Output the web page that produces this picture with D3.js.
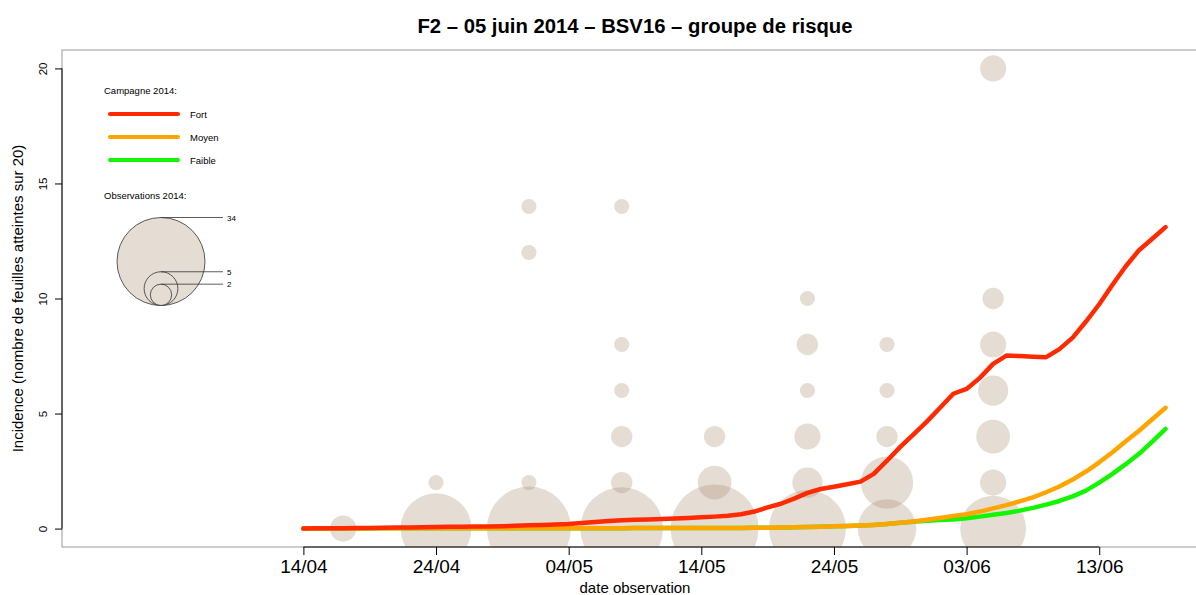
<!DOCTYPE html>
<html>
<head>
<meta charset="utf-8">
<script src="https://cdn.jsdelivr.net/npm/d3@7"></script>
<style>
    body { margin: 0; background: #fff; }
    svg { display: block; font-family: "Liberation Sans", Arial, Helvetica, sans-serif; }
</style>
</head>
<body>
<div id="chart"></div>
<script>
// Modelled curves, one value per day from 14/04 to 18/06
const curveStart = '2014-04-14';
const fort = [
    0, 0.01, 0.02, 0.02, 0.03, 0.03, 0.04, 0.05, 0.05, 0.06,
    0.07, 0.08, 0.08, 0.09, 0.09, 0.1, 0.12, 0.14, 0.16, 0.18,
    0.2, 0.24, 0.29, 0.33, 0.36, 0.38, 0.4, 0.42, 0.44, 0.46,
    0.49, 0.52, 0.56, 0.62, 0.74, 0.92, 1.08, 1.3, 1.55, 1.72,
    1.82, 1.93, 2.04, 2.38, 2.95, 3.55, 4.1, 4.65, 5.25, 5.86,
    6.07, 6.55, 7.16, 7.52, 7.5, 7.47, 7.45, 7.8, 8.3, 9.0,
    9.75, 10.6, 11.4, 12.1, 12.6, 13.1,
];
const moyen = [
    0, 0, 0, 0, 0, 0.01, 0.01, 0.01, 0.01, 0.01,
    0.01, 0.01, 0.01, 0.02, 0.02, 0.02, 0.02, 0.02, 0.02, 0.02,
    0.02, 0.02, 0.02, 0.02, 0.02, 0.03, 0.03, 0.03, 0.03, 0.03,
    0.03, 0.03, 0.03, 0.03, 0.04, 0.04, 0.05, 0.06, 0.07, 0.08,
    0.1, 0.11, 0.13, 0.16, 0.2, 0.25, 0.31, 0.38, 0.46, 0.55,
    0.62, 0.74, 0.88, 1.02, 1.18, 1.36, 1.58, 1.83, 2.13, 2.48,
    2.88, 3.32, 3.8, 4.25, 4.75, 5.25,
];
const faible = [
    0, 0, 0, 0, 0, 0.01, 0.01, 0.01, 0.01, 0.01,
    0.01, 0.01, 0.01, 0.02, 0.02, 0.02, 0.02, 0.02, 0.02, 0.02,
    0.02, 0.02, 0.02, 0.02, 0.02, 0.03, 0.03, 0.03, 0.03, 0.03,
    0.03, 0.03, 0.03, 0.03, 0.04, 0.04, 0.05, 0.06, 0.07, 0.08,
    0.1, 0.11, 0.13, 0.16, 0.2, 0.25, 0.3, 0.34, 0.37, 0.4,
    0.45, 0.52, 0.6, 0.68, 0.78, 0.9, 1.04, 1.2, 1.4, 1.65,
    2.0, 2.38, 2.8, 3.25, 3.78, 4.33,
];
const seriesNames = ['Fort', 'Moyen', 'Faible'];
const seriesColors = ['#ff2a00', '#ffa500', '#14f500'];

// Field observations: date, incidence, number of plots
const obsDate = [
    '2014-04-17',
    '2014-04-24', '2014-04-24',
    '2014-05-01', '2014-05-01', '2014-05-01', '2014-05-01',
    '2014-05-08', '2014-05-08', '2014-05-08', '2014-05-08', '2014-05-08', '2014-05-08',
    '2014-05-15', '2014-05-15', '2014-05-15',
    '2014-05-22', '2014-05-22', '2014-05-22', '2014-05-22', '2014-05-22', '2014-05-22',
    '2014-05-28', '2014-05-28', '2014-05-28', '2014-05-28', '2014-05-28',
    '2014-06-05', '2014-06-05', '2014-06-05', '2014-06-05', '2014-06-05', '2014-06-05', '2014-06-05',
];
const obsValue = [
    0,
    0, 2,
    0, 2, 12, 14,
    0, 2, 4, 6, 8, 14,
    0, 2, 4,
    0, 2, 4, 6, 8, 10,
    0, 2, 4, 6, 8,
    0, 2, 4, 6, 8, 10, 20,
];
const obsCount = [
    3,
    22, 1,
    31, 1, 1, 1,
    30, 2, 2, 1, 1, 1,
    34, 5, 2,
    26, 4, 3, 1, 2, 1,
    15, 12, 2, 1, 1,
    19, 3, 5, 4, 3, 2, 3,
];
const legendCounts = [34, 5, 2];

const xTickDates = ['2014-04-14', '2014-04-24', '2014-05-04', '2014-05-14', '2014-05-24', '2014-06-03', '2014-06-13'];
const yTicks = [0, 5, 10, 15, 20];

const width = 1196;
const height = 595;
const plot = { left: 62, top: 50, right: 1208, bottom: 547 };

const parse = d3.utcParse('%Y-%m-%d');

const svg = d3.select('#chart')
    .append('svg')
    .attr('width', width)
    .attr('height', height);

// Scales (R style: range padded by 4% on each side)
const xMin = parse('2014-03-30');
const xMax = parse('2014-06-18');
const pad = (xMax - xMin) * 0.04;
const xScale = d3.scaleUtc()
    .domain([new Date(+xMin - pad), new Date(+xMax + pad)])
    .range([plot.left, plot.right]);

const yScale = d3.scaleLinear()
    .domain([-0.8, 20.8])
    .range([plot.bottom, plot.top]);

const rScale = d3.scaleSqrt()
    .domain([0, 34])
    .range([0, 44]);

svg.append('clipPath')
    .attr('id', 'plot-clip')
    .append('rect')
    .attr('x', plot.left)
    .attr('y', plot.top)
    .attr('width', plot.right - plot.left)
    .attr('height', plot.bottom - plot.top);

const inner = svg.append('g')
    .attr('clip-path', 'url(#plot-clip)');

// Bubbles
const obs = obsDate.map((d, i) => ({ date: parse(d), value: obsValue[i], count: obsCount[i] }));
inner.append('g')
    .selectAll('circle')
    .data(obs)
    .join('circle')
    .attr('cx', (d) => xScale(d.date))
    .attr('cy', (d) => yScale(d.value))
    .attr('r', (d) => rScale(d.count))
    .attr('fill', 'rgba(168,138,108,0.3)');

// Curves
const start = parse(curveStart);
const series = [fort, moyen, faible].map((values, k) => ({
    name: seriesNames[k],
    color: seriesColors[k],
    points: values.map((v, i) => ({ date: d3.utcDay.offset(start, i), value: v })),
}));

const lineFunction = d3.line()
    .x((d) => xScale(d.date))
    .y((d) => yScale(d.value));

// draw Faible first, Fort on top
inner.append('g')
    .selectAll('path')
    .data(series.slice().reverse())
    .join('path')
    .attr('d', (d) => lineFunction(d.points))
    .attr('fill', 'none')
    .attr('stroke', (d) => d.color)
    .attr('stroke-width', 4.5)
    .attr('stroke-linecap', 'round')
    .attr('stroke-linejoin', 'round');

// Box
svg.append('rect')
    .attr('x', plot.left)
    .attr('y', plot.top)
    .attr('width', plot.right - plot.left)
    .attr('height', plot.bottom - plot.top)
    .attr('fill', 'none')
    .attr('stroke', '#999')
    .attr('stroke-width', 1);

// X axis
const xTicks = xTickDates.map(parse);
const xAxis = d3.axisBottom(xScale)
    .tickValues(xTicks)
    .tickSize(8)
    .tickPadding(5)
    .tickFormat(d3.utcFormat('%d/%m'));

const gx = svg.append('g')
    .attr('transform', `translate(0,${plot.bottom})`)
    .call(xAxis);
gx.select('.domain').remove();
gx.selectAll('line').attr('stroke', '#000');
gx.selectAll('text')
    .attr('fill', '#000')
    .style('font-size', '19px')
    .style('font-family', '"Liberation Sans", Arial, sans-serif');
gx.append('line')
    .attr('x1', xScale(xTicks[0]))
    .attr('x2', xScale(xTicks[xTicks.length - 1]))
    .attr('stroke', '#000');

// Y axis
const yAxis = d3.axisLeft(yScale)
    .tickValues(yTicks)
    .tickSize(7);

const gy = svg.append('g')
    .attr('transform', `translate(${plot.left},0)`)
    .call(yAxis);
gy.select('.domain').remove();
gy.selectAll('line').attr('stroke', '#000');
gy.selectAll('text')
    .attr('x', null)
    .attr('dy', null)
    .attr('fill', '#000')
    .attr('text-anchor', 'middle')
    .attr('transform', 'translate(-15,0) rotate(-90)')
    .style('font-size', '11.5px')
    .style('font-family', '"Liberation Sans", Arial, sans-serif');
gy.append('line')
    .attr('y1', yScale(yTicks[0]))
    .attr('y2', yScale(yTicks[yTicks.length - 1]))
    .attr('stroke', '#000');

// Titles
svg.append('text')
    .attr('x', 635)
    .attr('y', 33)
    .attr('text-anchor', 'middle')
    .style('font-size', '20.3px')
    .style('font-weight', 'bold')
    .text('F2 – 05 juin 2014 – BSV16 – groupe de risque');

svg.append('text')
    .attr('x', 635)
    .attr('y', 593)
    .attr('text-anchor', 'middle')
    .style('font-size', '15px')
    .text('date observation');

svg.append('text')
    .attr('transform', `translate(23,${(plot.top + plot.bottom) / 2}) rotate(-90)`)
    .attr('text-anchor', 'middle')
    .style('font-size', '15px')
    .text('Incidence (nombre de feuilles atteintes sur 20)');

// Legend: curves
const legend = svg.append('g');
legend.append('text')
    .attr('x', 104)
    .attr('y', 94)
    .style('font-size', '9.5px')
    .text('Campagne 2014:');

series.forEach((s, i) => {
    const ly = 114 + i * 23;
    legend.append('line')
        .attr('x1', 110)
        .attr('x2', 178)
        .attr('y1', ly)
        .attr('y2', ly)
        .attr('stroke', s.color)
        .attr('stroke-width', 4)
        .attr('stroke-linecap', 'round');
    legend.append('text')
        .attr('x', 190)
        .attr('y', ly + 3.5)
        .style('font-size', '9.5px')
        .text(s.name);
});

// Legend: bubble sizes
legend.append('text')
    .attr('x', 104)
    .attr('y', 199)
    .style('font-size', '9.5px')
    .text('Observations 2014:');

const bubbleX = 161;
const bubbleBase = 305.5;
legendCounts.forEach((n) => {
    const r = rScale(n);
    legend.append('circle')
        .attr('cx', bubbleX)
        .attr('cy', bubbleBase - r)
        .attr('r', r)
        .attr('fill', '#e5dcd3')
        .attr('stroke', '#333')
        .attr('stroke-width', 0.8);
});
legendCounts.forEach((n) => {
    const top = bubbleBase - 2 * rScale(n);
    legend.append('line')
        .attr('x1', bubbleX)
        .attr('x2', 223)
        .attr('y1', top)
        .attr('y2', top)
        .attr('stroke', '#333')
        .attr('stroke-width', 0.8);
    legend.append('text')
        .attr('x', 227)
        .attr('y', top + 3)
        .style('font-size', '8px')
        .text(n);
});
</script>
</body>
</html>
